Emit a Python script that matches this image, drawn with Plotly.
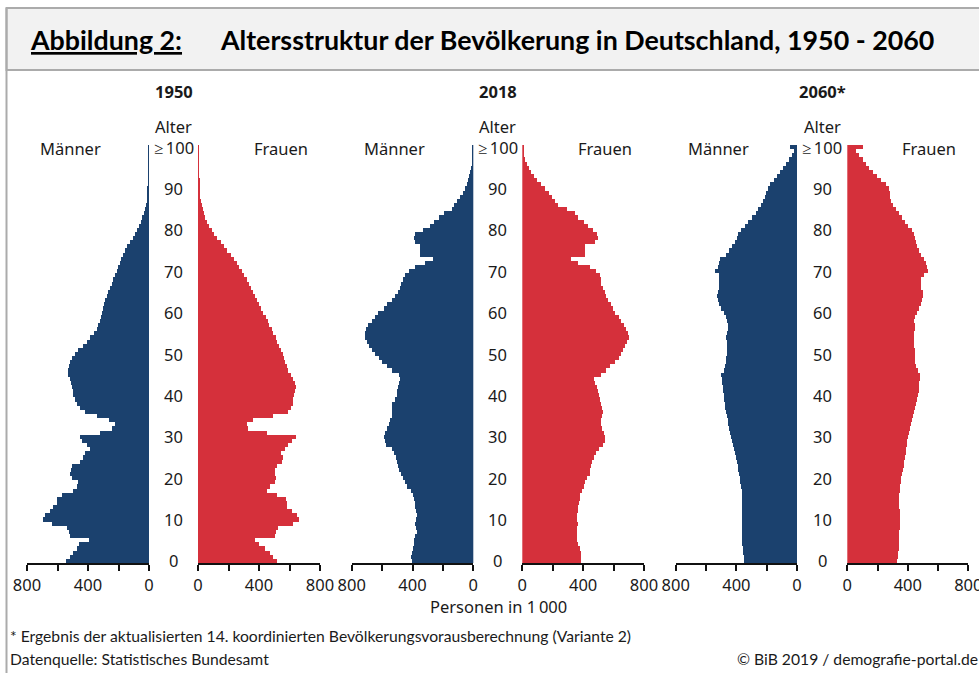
import plotly.graph_objects as go

W, H = 979, 673

ages = list(range(101))
age_tick_vals = [0, 10, 20, 30, 40, 50, 60, 70, 80, 90, 100]
age_tick_text = ["0", "10", "20", "30", "40", "50", "60", "70", "80", "90", "≥\u2009100"]
x_tick_vals = [0, 200, 400, 600, 800]
x_tick_text = ["0", "", "400", "", "800"]
years = ["1950", "2018", "2060*"]

men_1950 = [545, 518, 496, 474, 457, 395, 518, 525, 540, 638,
            693, 682, 649, 627, 601, 601, 573, 496, 474, 463,
            507, 518, 514, 507, 452, 431, 420, 387, 409, 442,
            452, 321, 245, 223, 260, 343, 420, 452, 470, 485,
            496, 500, 507, 514, 518, 529, 529, 522, 518, 507,
            485, 463, 431, 409, 387, 361, 343, 332, 321, 317,
            310, 304, 295, 286, 278, 267, 256, 245, 234, 223,
            212, 201, 190, 184, 173, 157, 142, 125, 107, 92,
            81, 68, 55, 44, 33, 24, 20, 15, 11, 9,
            7, 5, 4, 3, 2, 2, 1, 1, 1, 0.5, 0.5]
women_1950 = [516, 494, 472, 439, 402, 374, 505, 512, 527, 625,
              665, 647, 614, 581, 581, 577, 516, 450, 472, 505,
              512, 507, 507, 516, 549, 555, 542, 570, 592, 614,
              643, 450, 330, 319, 363, 494, 592, 608, 625, 621,
              630, 638, 643, 636, 621, 608, 592, 581, 570, 564,
              555, 542, 533, 520, 512, 494, 483, 468, 457, 446,
              428, 415, 402, 389, 376, 363, 350, 337, 319, 302,
              286, 271, 254, 236, 214, 192, 171, 149, 127, 105,
              90, 74, 61, 48, 39, 31, 24, 20, 15, 13,
              11, 9, 7, 5, 4, 3, 2, 1.5, 1, 0.5, 0.5]
men_2018 = [405, 410, 405, 400, 395, 390, 385, 375, 380, 385,
            380, 375, 380, 385, 388, 392, 402, 415, 437, 452,
            465, 480, 490, 495, 502, 512, 525, 540, 575, 583,
            590, 583, 568, 557, 547, 540, 540, 535, 535, 518,
            503, 503, 497, 488, 482, 490, 540, 572, 600, 625,
            648, 668, 688, 703, 714, 716, 708, 692, 668, 650,
            628, 591, 569, 540, 519, 497, 484, 475, 464, 449,
            427, 388, 317, 270, 350, 350, 350, 383, 394, 388,
            335, 285, 263, 230, 197, 142, 131, 110, 88, 72,
            59, 46, 37, 28, 22, 15, 11, 8, 6, 4, 5]
women_2018 = [388, 390, 385, 379, 368, 364, 361, 361, 364, 368,
              364, 364, 368, 368, 372, 379, 383, 394, 407, 416,
              429, 445, 447, 451, 460, 473, 488, 504, 532, 543,
              547, 539, 526, 517, 521, 526, 530, 526, 521, 510,
              504, 499, 495, 482, 473, 517, 554, 576, 609, 635,
              648, 664, 679, 692, 701, 696, 685, 670, 653, 635,
              613, 598, 583, 565, 554, 543, 532, 521, 517, 510,
              488, 445, 368, 324, 416, 416, 416, 482, 499, 495,
              466, 434, 407, 368, 346, 298, 237, 219, 197, 175,
              149, 127, 101, 79, 61, 44, 31, 22, 13, 7, 9]
men_2060 = [350, 353, 357, 361, 364, 366, 366, 366, 366, 366,
            366, 366, 366, 366, 366, 366, 366, 368, 372, 376,
            380, 384, 388, 393, 398, 404, 410, 416, 422, 428,
            435, 441, 448, 454, 460, 465, 470, 474, 478, 482,
            486, 491, 493, 495, 497, 502, 486, 475, 471, 469,
            464, 464, 462, 464, 469, 462, 458, 458, 462, 471,
            486, 502, 515, 523, 530, 523, 519, 515, 515, 519,
            541, 523, 519, 508, 471, 449, 431, 410, 399, 388,
            370, 344, 322, 296, 274, 256, 239, 223, 212, 208,
            195, 180, 151, 136, 114, 92, 77, 55, 37, 20, 48]
women_2060 = [330, 334, 338, 341, 343, 345, 346, 347, 348, 348,
              348, 348, 348, 347, 346, 342, 346, 350, 352, 355,
              358, 362, 368, 374, 380, 385, 388, 392, 395, 398,
              402, 408, 414, 420, 427, 434, 442, 450, 458, 466,
              472, 475, 477, 479, 482, 484, 470, 458, 452, 450,
              448, 448, 446, 444, 442, 445, 447, 447, 445, 449,
              460, 475, 486, 497, 504, 504, 491, 486, 491, 508,
              534, 526, 519, 508, 491, 475, 464, 453, 447, 442,
              431, 403, 381, 366, 344, 322, 307, 289, 285, 285,
              278, 256, 223, 201, 175, 147, 125, 103, 81, 59, 103]

BLUE = "#1b416e"
RED = "#d5303b"
TXT = "#1a1a1a"
FONT = "Noto Sans"
FS = 16.5

def px(x):
    return x / W

def py(y):
    return 1 - y / H

panels = [
    (men_1950, women_1950, (27, 149), (198, 320), 173.5),
    (men_2018, women_2018, (351.7, 473.3), (522.3, 644), 497.8),
    (men_2060, women_2060, (675.7, 797), (847.3, 968.3), 822),
]

fig = go.Figure()
layout_axes = {}
annotations = []
ydom = [py(563), py(145)]

def note(x, y, text, size=FS, family=FONT, anchor="center", yref="paper", **kw):
    annotations.append(dict(x=x, xref="paper", y=y, yref=yref, text=text, showarrow=False,
                            xanchor=anchor, yanchor="middle",
                            font=dict(family=family, size=size, color=kw.pop("color", TXT), **kw)))

for i, (men, women, mdom, fdom, cx) in enumerate(panels):
    mi = 2 * i + 1
    fi = 2 * i + 2
    mname = "x" if mi == 1 else f"x{mi}"
    fname = f"x{fi}"
    fig.add_trace(go.Bar(y=ages, x=men, orientation="h", marker=dict(color=BLUE, line=dict(width=0)),
                         xaxis=mname, yaxis="y", width=1.0, showlegend=False))
    fig.add_trace(go.Bar(y=ages, x=women, orientation="h", marker=dict(color=RED, line=dict(width=0)),
                         xaxis=fname, yaxis="y", width=1.0, showlegend=False))
    common = dict(anchor="y", showline=True, linecolor="#111111", linewidth=1.5,
                  ticks="outside", ticklen=6, tickwidth=1.5, tickcolor="#111111",
                  tickvals=x_tick_vals, ticktext=x_tick_text, showgrid=False, zeroline=False,
                  automargin=False, ticklabeloverflow="allow",
                  tickfont=dict(family=FONT, size=FS, color=TXT), fixedrange=True)
    layout_axes["xaxis" if mi == 1 else f"xaxis{mi}"] = dict(domain=[px(mdom[0]), px(mdom[1])],
                                                             range=[800, 0], **common)
    layout_axes[f"xaxis{fi}"] = dict(domain=[px(fdom[0]), px(fdom[1])], range=[0, 800], **common)

    for v, t in zip(age_tick_vals, age_tick_text):
        note(px(cx), v, t, yref="y")
    note(px(cx), py(92), f"<b>{years[i]}</b>")
    note(px(cx), py(126), "Alter")
    note(px(mdom[0] + 43), py(148), "Männer")
    note(px(fdom[1] - 39), py(148), "Frauen")

note(px(498), py(606), "Personen in 1\u2009000")
note(px(28), py(40), "<b>Abbildung 2:</b>", size=26.8, family="Lato", anchor="left",
     color="#000000", lineposition="under")
note(px(218), py(40), "<b>Altersstruktur der Bevölkerung in Deutschland, 1950 - 2060</b>",
     size=26.8, family="Lato", anchor="left", color="#000000")
note(px(8), py(636),
     "* Ergebnis der aktualisierten 14. koordinierten Bevölkerungsvorausberechnung (Variante 2)",
     size=15.7, family="Lato", anchor="left")
note(px(8), py(659), "Datenquelle: Statistisches Bundesamt", size=15.7, family="Lato", anchor="left")
note(px(735), py(659), "© BiB 2019 / demografie-portal.de", size=15.7, family="Lato", anchor="left")

shapes = [
    dict(type="rect", xref="paper", yref="paper", x0=px(6.5), x1=px(995), y0=py(70), y1=py(8),
         fillcolor="#f2f2f2", line=dict(color="#ababab", width=2), layer="below"),
    dict(type="line", xref="paper", yref="paper", x0=px(6.5), x1=px(6.5), y0=py(8), y1=py(680),
         line=dict(color="#ababab", width=2)),
]

fig.update_layout(
    width=W, height=H, autosize=False,
    margin=dict(l=0, r=0, t=0, b=0, pad=0, autoexpand=False),
    paper_bgcolor="white", plot_bgcolor="white",
    bargap=0, barmode="overlay",
    yaxis=dict(domain=ydom, range=[-0.5, 100.5], visible=False, fixedrange=True, automargin=False),
    annotations=annotations, shapes=shapes,
    showlegend=False,
    **layout_axes,
)

fig.write_html("out.html", config={"displayModeBar": False},
               post_script="document.body.style.margin='0';document.body.style.overflow='hidden';")
